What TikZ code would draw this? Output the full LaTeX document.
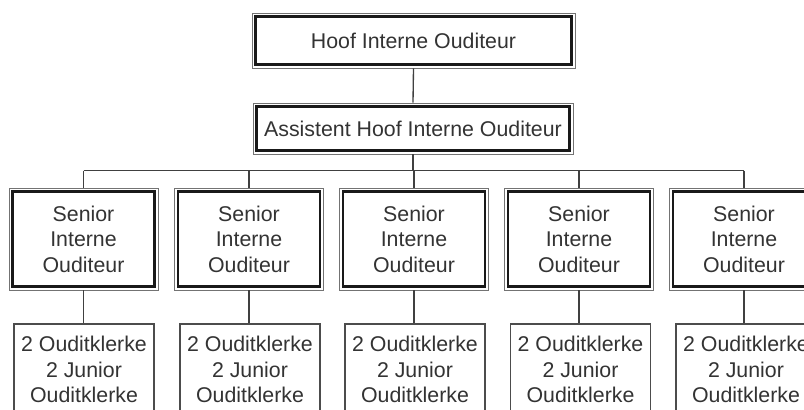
\documentclass[tikz,border=0pt]{standalone}
\usepackage{fontspec}
\setmainfont{Liberation Sans}
\begin{document}
\begin{tikzpicture}[x=0.75pt,y=-0.75pt,
  txt/.style={font=\fontsize{16pt}{19.2pt}\selectfont, text=black!80, align=center, inner sep=0pt},
  outerbox/.style={draw=black!55, line width=0.6pt, inner sep=0pt},
  inner/.style={draw=black!90, line width=1.7pt},
  conn/.style={draw=black!75, line width=1pt},
  plainbox/.style={draw=black!70, line width=0.8pt, inner sep=0pt}]
\clip (0,0) rectangle (804,410);
\fill[white] (0,0) rectangle (804,410);
% top levels
\node[outerbox, txt, minimum width=242.25pt, minimum height=41.25pt] (hoof) at (413.5,40.5) {Hoof Interne Ouditeur};
\node[outerbox, txt, minimum width=240pt, minimum height=38.25pt] (ass) at (413,128.5) {Assistent Hoof Interne Ouditeur};
\coordinate (bus) at (413,170.5);
\draw[conn] (hoof.south) -- (ass.north);
\draw[conn] (ass.south) -- (bus);
% senior and junior columns
\foreach \i/\x/\xb in {1/83.5/84, 2/249/250, 3/414/415, 4/579/580.5, 5/744/746} {
  \node[outerbox, txt, minimum width=111.75pt, minimum height=76.5pt] (sen\i) at (\x,239) {Senior\\Interne\\Ouditeur};
  \node[plainbox, minimum width=105pt, minimum height=87pt] (kb\i) at (\xb,382) {};
  \node[txt] (kt\i) at (\xb,369.5) {2 Ouditklerke\\2 Junior\\Ouditklerke};
  \coordinate (bt\i) at (\x,170.5);
  \draw[conn] (bt\i) -- (sen\i.north);
  \draw[conn] (sen\i.south) -- (sen\i.south |- kb\i.north);
}
\draw[conn] (bt1) -- (bt5);
% inner thick frames
\foreach \n in {hoof,ass,sen1,sen2,sen3,sen4,sen5} {
  \draw[inner] ([shift={(3pt,3pt)}]\n.south west) rectangle ([shift={(-3pt,-3pt)}]\n.north east);
}
\end{tikzpicture}
\end{document}
